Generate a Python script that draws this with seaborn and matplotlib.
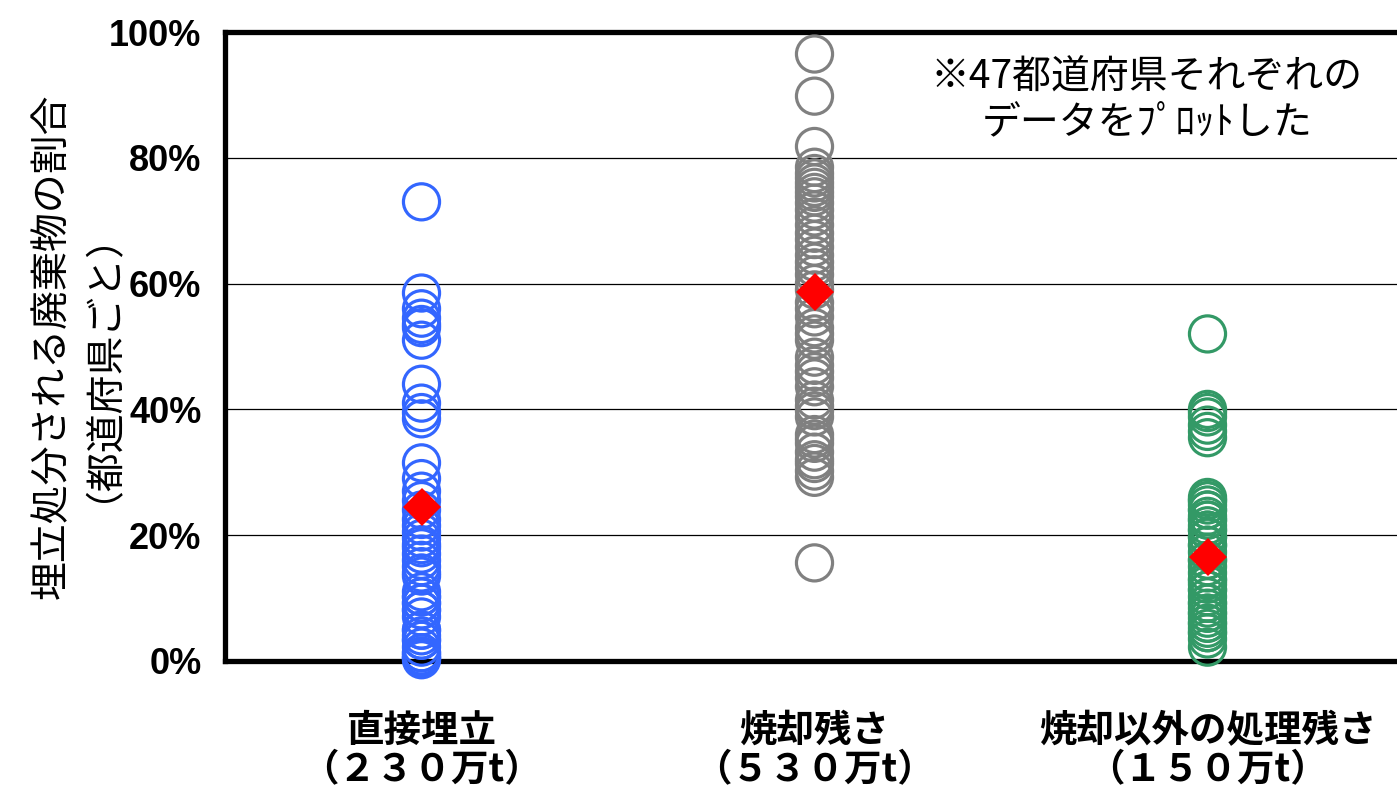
import numpy as np
import pandas as pd
import seaborn as sns
import matplotlib.pyplot as plt

# categories (x axis)
categories = ["直接埋立\n（２３０万t）", "焼却残さ\n（５３０万t）", "焼却以外の処理残さ\n（１５０万t）"]

# share of landfilled waste per prefecture (%), 47 each
direct = [73.0, 58.5, 56.0, 54.5, 53.5, 53.0, 51.0, 44.0, 41.0, 39.5, 38.5,
          31.5, 29.0, 27.0, 25.5, 24.0, 22.5, 21.5, 20.5, 19.5, 18.5, 18.0,
          17.0, 16.0, 15.0, 14.0, 13.5, 11.0, 10.2, 10.2, 9.2, 9.2, 8.1, 8.1,
          7.0, 4.9, 4.9, 4.0, 3.3, 3.3, 2.2, 1.3, 1.3, 0.8, 0.5, 0.5, 0.2]
incin = [96.5, 89.8, 81.8, 78.5, 77.5, 76.8, 76.0, 75.3, 74.5, 73.8, 72.8,
         71.7, 70.6, 69.3, 68.0, 67.0, 65.8, 64.5, 63.4, 62.5, 61.4, 60.0,
         59.0, 57.0, 56.0, 54.7, 53.0, 52.0, 51.0, 48.3, 47.0, 46.0, 45.0,
         43.6, 41.5, 40.5, 39.8, 38.8, 36.0, 35.3, 34.6, 33.2, 32.0, 31.4,
         30.2, 29.2, 15.6]
other = [52.0, 40.0, 39.5, 38.8, 37.5, 36.5, 35.5, 26.0, 25.5, 25.5, 24.8,
         24.0, 24.0, 23.0, 22.4, 22.4, 21.5, 20.8, 20.8, 19.7, 19.7, 18.4,
         18.4, 17.3, 16.0, 16.0, 15.0, 14.0, 13.0, 12.8, 12.2, 11.3, 11.3,
         10.2, 9.2, 9.2, 8.4, 7.6, 7.6, 6.8, 6.0, 6.0, 5.2, 4.5, 4.5, 3.5, 2.2]
national = [24.5, 58.7, 16.5]

yticks = [0, 20, 40, 60, 80, 100]
ytick_labels = ["0%", "20%", "40%", "60%", "80%", "100%"]
colors = ["#3366ff", "#808080", "#339966"]

sns.set_theme(style="white")
plt.rcParams["font.family"] = ["Noto Sans CJK JP", "DejaVu Sans"]
plt.rcParams["text.color"] = "black"
plt.rcParams["xtick.color"] = "black"
plt.rcParams["ytick.color"] = "black"

df = pd.DataFrame({
    "cat": np.repeat(categories, [len(direct), len(incin), len(other)]),
    "val": direct + incin + other,
})

fig = plt.figure(figsize=(13.97, 7.94), dpi=100)
ax = fig.add_axes([225 / 1397, 1 - 661 / 794, (1404 - 225) / 1397, (661 - 32) / 794])

sns.stripplot(data=df, x="cat", y="val", hue="cat", order=categories,
              hue_order=categories, palette=colors, jitter=False, size=26,
              linewidth=2.3, legend=False, ax=ax, zorder=3)
for coll in ax.collections:
    idx = int(round(coll.get_offsets()[0, 0]))
    coll.set_facecolor("none")
    coll.set_edgecolor(colors[idx])
    coll.set_clip_on(False)

sns.pointplot(x=categories, y=national, order=categories, color="red",
              markers="D", linestyles="none", errorbar=None, markersize=19,
              markeredgewidth=0, ax=ax, zorder=5)

ax.set_ylim(0, 100)
ax.set_xlim(-0.5, 2.5)
ax.set_yticks(yticks)
ax.set_yticklabels(ytick_labels, fontsize=26, fontweight="bold",
                   family=["Liberation Sans", "DejaVu Sans"])
ax.set_xticks(range(len(categories)))
ax.set_xticklabels(categories, fontsize=27, fontweight="bold", linespacing=1.0)
ax.tick_params(axis="y", length=0, pad=17)
ax.tick_params(axis="x", length=0, pad=36)
ax.set_xlabel("")
ax.set_ylabel("")
ax.yaxis.grid(True, color="black", linewidth=0.9)
ax.set_axisbelow(True)
for side in ["left", "top", "bottom", "right"]:
    ax.spines[side].set_color("black")
    ax.spines[side].set_linewidth(3.8)

fig.text(67 / 1397, 1 - 346 / 794, "埋立処分される廃棄物の割合\n（都道府県ごと）",
         rotation=90, ha="center", va="center", fontsize=28, linespacing=0.68,
         multialignment="center")
ax.text(0.782, 0.892, "※47都道府県それぞれの\nデータをﾌﾟﾛｯﾄした",
        transform=ax.transAxes, ha="center", va="center", fontsize=28,
        linespacing=1.15)

fig.savefig("out.png", dpi=100)
